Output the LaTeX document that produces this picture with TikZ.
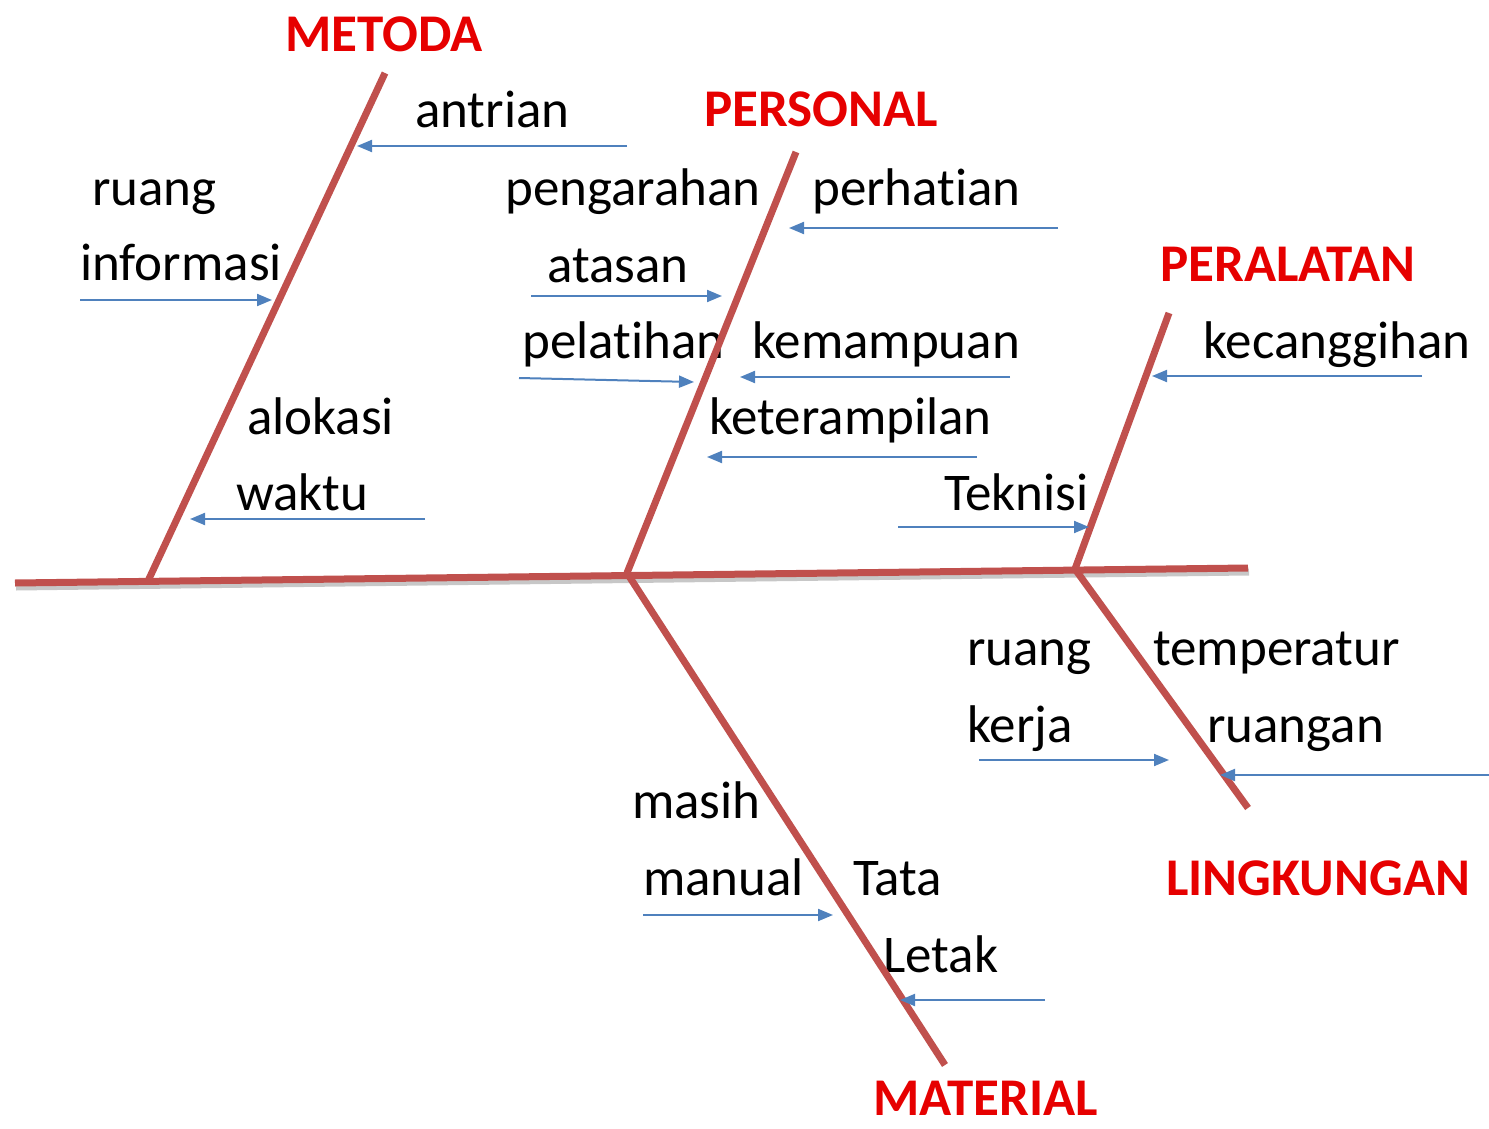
\documentclass[tikz,border=0pt]{standalone}
\usepackage{fontspec}
\setmainfont{Carlito}[Ligatures=NoCommon]
\usetikzlibrary{arrows.meta,positioning}
\definecolor{bonered}{RGB}{192,80,77}
\definecolor{causeblue}{RGB}{79,129,189}
\definecolor{catred}{RGB}{230,0,0}

\begin{document}
\begin{tikzpicture}[x=1pt,y=-1pt,
  bone/.style={draw=bonered,line width=7pt},
  shade/.style={draw=black!22,line width=7pt},
  cause/.style={draw=causeblue,line width=2pt,-{Triangle[length=15pt,width=12pt]}},
  txt/.style={anchor=base west,inner sep=0pt,font=\fontsize{53}{60}\selectfont},
  cat/.style={txt,font=\fontsize{53}{60}\selectfont\bfseries,text=catred}]
  \useasboundingbox (0,0) rectangle (1489,1129);

  % spine and bones
  \coordinate (tail) at (15,583);
  \coordinate (head) at (1248,568);
  \coordinate (j1) at (148,581);
  \coordinate (j2) at (627,573);
  \coordinate (j3) at (1075,569);
  \coordinate (metoda) at (385,73);
  \coordinate (personal) at (796,152);
  \coordinate (peralatan) at (1169,313);
  \coordinate (material) at (945,1065);
  \coordinate (lingkungan) at (1248,808);

  % category labels
  \node[cat] (lmetoda) at (285,52) {METODA};
  \node[cat] (lpersonal) at (704,127) {PERSONAL};
  \node[cat] (lperalatan) at (1160,281) {PERALATAN};
  \node[cat] (llingkungan) at (1166,895) {LINGKUNGAN};
  \node[cat] (lmaterial) at (873,1115) {MATERIAL};

  % causes
  \node[txt] (antrian) at (415,128) {antrian};
  \node[txt] (ruang) at (92,205) {ruang};
  \node[txt] (informasi) at (80,280) {informasi};
  \node[txt] (alokasi) at (247,434) {alokasi};
  \node[txt] (waktu) at (236,510) {waktu};
  \node[txt] (pengarahan) at (505,205) {pengarahan};
  \node[txt] (perhatian) at (812,205) {perhatian};
  \node[txt] (atasan) at (547,282) {atasan};
  \node[txt] (pelatihan) at (522,358) {pelatihan};
  \node[txt] (kemampuan) at (752,358) {kemampuan};
  \node[txt] (keterampilan) at (709,434) {keterampilan};
  \node[txt] (teknisi) at (944,510) {Teknisi};
  \node[txt] (kecanggihan) at (1203,358) {kecanggihan};
  \node[txt] (ruangk) at (967,665) {ruang};
  \node[txt] (kerja) at (967,742) {kerja};
  \node[txt] (temperatur) at (1153,665) {temperatur};
  \node[txt] (ruangan) at (1207,742) {ruangan};
  \node[txt] (masih) at (632,818) {masih};
  \node[txt] (manual) at (643,895) {manual};
  \node[txt] (tata) at (853,895) {Tata};
  \node[txt] (letak) at (883,972) {Letak};

  \draw[shade] ([shift={(1,4)}]tail) -- ([shift={(1,4)}]head);
  \draw[bone] (tail) -- (head);
  \draw[bone] (j1) -- (metoda);
  \draw[bone] (j2) -- (personal);
  \draw[bone] (j3) -- (peralatan);
  \draw[bone] (j2) -- (material);
  \draw[bone] (j3) -- (lingkungan);

  % arrow ends
  \coordinate (a1) at (627,146);  \coordinate (b1) at (357,146);
  \coordinate (a2) at (80,300);   \coordinate (b2) at (272,300);
  \coordinate (a3) at (425,519);  \coordinate (b3) at (190,519);
  \coordinate (a4) at (1058,228); \coordinate (b4) at (789,228);
  \coordinate (a5) at (531,296);  \coordinate (b5) at (722,296);
  \coordinate (a6) at (519,378);  \coordinate (b6) at (694,382);
  \coordinate (a7) at (1010,377); \coordinate (b7) at (740,377);
  \coordinate (a8) at (977,457);  \coordinate (b8) at (707,457);
  \coordinate (a9) at (898,527);  \coordinate (b9) at (1089,527);
  \coordinate (a10) at (1422,376); \coordinate (b10) at (1152,376);
  \coordinate (a11) at (979,760);  \coordinate (b11) at (1169,760);
  \coordinate (a12) at (1489,775); \coordinate (b12) at (1220,775);
  \coordinate (a13) at (643,915);  \coordinate (b13) at (833,915);
  \coordinate (a14) at (1045,1000); \coordinate (b14) at (900,1000);

  \foreach \i in {1,...,14}
    \draw[cause] (a\i) -- (b\i);

\end{tikzpicture}
\end{document}
